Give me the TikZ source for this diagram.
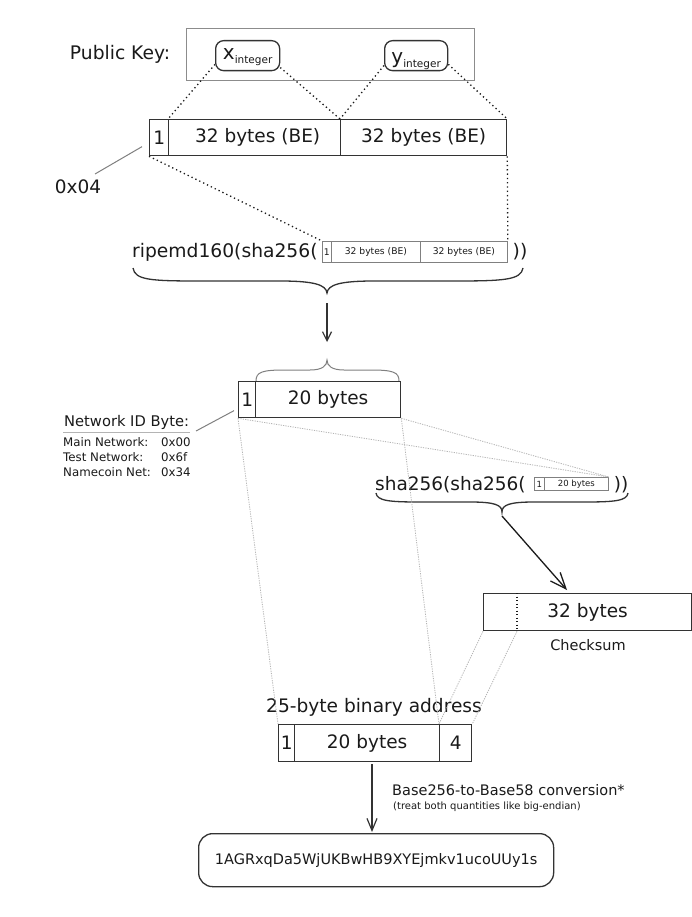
\documentclass[tikz,border=0pt]{standalone}
\usepackage{fontspec}
\setmainfont{DejaVu Sans}
\usetikzlibrary{arrows.meta,calc}
\definecolor{boxc}{HTML}{333333}
\definecolor{txt}{HTML}{1A1A1A}
\definecolor{sgray}{HTML}{808080}
\definecolor{pkgray}{HTML}{8C8C8C}
\definecolor{lgray}{HTML}{B4B4B4}
\begin{document}
\begin{tikzpicture}[x=1pt,y=-1pt,
  fs/.style={font=\fontsize{#1}{#1}\selectfont, text=txt, inner sep=0pt},
  cell/.style={draw=boxc, line width=1.3pt, inner sep=0pt, text=txt,
    font=\fontsize{18.5}{18.5}\selectfont, minimum height=36pt, anchor=north west},
  scell/.style={draw=sgray, line width=0.8pt, inner sep=0pt, text=txt,
    font=\fontsize{9.2}{9.2}\selectfont, minimum height=21pt, anchor=north west},
  tcell/.style={draw=sgray, line width=0.8pt, inner sep=0pt, text=txt,
    font=\fontsize{8.5}{8.5}\selectfont, minimum height=13pt, anchor=north west},
  rbox/.style={draw=boxc, line width=1.3pt, rounded corners=8pt, inner sep=0pt,
    text=txt, anchor=north west, minimum width=64pt, minimum height=30pt},
  dotline/.style={draw=txt, line width=1.3pt, dash pattern=on 1.3pt off 3pt},
  ldot/.style={draw=lgray, line width=0.8pt, dash pattern=on 1.2pt off 1.2pt},
  brc/.style={draw=boxc, line width=1.3pt},
  arr/.style={draw=boxc, line width=1.2pt, -{Straight Barb[length=9pt,width=9pt]}},
  arrbig/.style={draw=txt, line width=1.3pt, -{Straight Barb[length=16pt,width=13pt]}},
  thinline/.style={draw=sgray, line width=1pt}
]
\fill[white] (0,0) rectangle (692,917);
\useasboundingbox (0,0) rectangle (692,917);

% Public key
\node[draw=pkgray, line width=0.8pt, minimum width=288pt, minimum height=52pt,
  anchor=north west, inner sep=0pt] (pk) at (186,28) {};
\node[fs=18.7] (pkl) at (120,54) {Public Key:};
\node[rbox, text height=12pt, text depth=4pt] (xb) at (215,40)
  {{\fontsize{20}{20}\selectfont x}{\fontsize{10.5}{10.5}\selectfont\raisebox{-4pt}{integer}}};
\node[rbox, minimum width=63pt, text height=16pt, text depth=0pt] (yb) at (384,40)
  {{\fontsize{20}{20}\selectfont y}{\fontsize{10.5}{10.5}\selectfont\raisebox{-4pt}{integer}}};

% main bar
\node[cell, minimum width=19pt] (k1) at (149,119) {1};
\node[cell, minimum width=172pt] (k2) at (168,119) {\hspace{6pt}32 bytes (BE)};
\node[cell, minimum width=166pt] (k3) at (340,119) {32 bytes (BE)};

\draw[dotline] (xb.195) -- (k2.north west);
\draw[dotline] (xb.-20) -- (k3.north west);
\draw[dotline] (yb.197) -- (k3.north west);
\draw[dotline] (yb.-15) -- (k3.north east);

% 0x04
\node[fs=18.5] (ox) at (78,187) {0x04};
\coordinate (oxs) at (95,174);
\draw[thinline] (oxs) -- ($(k1.west)+(-7,9)$);

% ripemd line
\node[fs=18.7, anchor=west] (rip) at (132,252) {ripemd160(sha256(};
\node[scell, minimum width=9pt] (s1) at (322,241) {1};
\node[scell, minimum width=89pt] (s2) at (331,241) {32 bytes (BE)};
\node[scell, minimum width=87pt] (s3) at (420,241) {32 bytes (BE)};
\node[fs=18.7] (rp) at (520,252) {))};

\draw[dotline] (k1.south west) -- (s1.north west);
\draw[dotline] (k3.south east) -- (s3.north east);

% big brace
\draw[brc] (133,268) .. controls (135,280) and (150,281) .. (200,281) -- (280,281)
  .. controls (315,281) and (326,285) .. (327,293)
  .. controls (328,285) and (339,281) .. (374,281) -- (454,281)
  .. controls (504,281) and (521,280) .. (523,268);

\coordinate (a1s) at (327,303);
\coordinate (a1e) at (327,342);
\draw[arr] (a1s) -- (a1e);

% small upper brace
\draw[draw=sgray, line width=1pt] (256,381) .. controls (256,372) and (262,370) .. (285,370) -- (310,370)
  .. controls (322,370) and (327,366) .. (327,360)
  .. controls (327,366) and (332,370) .. (344,370) -- (370,370)
  .. controls (393,370) and (399,372) .. (399,381);

% 20 bytes box
\node[cell, minimum width=17pt] (n1) at (238,381) {1};
\node[cell, minimum width=145pt] (n2) at (255,381) {20 bytes};

% network id
\node[fs=14.7, anchor=west] (nid) at (64,422) {Network ID Byte:};
\draw[draw=lgray, line width=1pt] (nid.south west) ++(-1,3) coordinate (ul1) -- ($(nid.south east)+(1,3)$) coordinate (ul2);
\coordinate (nls) at (196,431);
\draw[thinline] (nls) -- ($(n1.west)+(-4,11)$);
\node[fs=11.8, anchor=west] (mn) at (63,442) {Main Network:};
\node[fs=11.8, anchor=west] (mnv) at (161,442) {0x00};
\node[fs=11.8, anchor=west] (tn) at (63,457) {Test Network:};
\node[fs=11.8, anchor=west] (tnv) at (161,457) {0x6f};
\node[fs=11.8, anchor=west] (nn) at (63,472) {Namecoin Net:};
\node[fs=11.8, anchor=west] (nnv) at (161,472) {0x34};

% sha256 line
\node[fs=18.5, anchor=west] (sha) at (375,485) {sha256(sha256(};
\node[tcell, minimum width=10pt] (sb1) at (534,477) {1};
\node[tcell, minimum width=64pt] (sb2) at (544,477) {20 bytes};
\node[fs=18.5] (sp) at (621,485) {))};

\draw[ldot] (n1.south west) -- (sb2.north east);
\draw[ldot] (n2.south east) -- (sb2.north east);

% brace 3
\draw[brc] (376,493) .. controls (377,501) and (390,502) .. (420,502) -- (470,502)
  .. controls (495,502) and (502,505) .. (502,512)
  .. controls (502,505) and (509,502) .. (534,502) -- (584,502)
  .. controls (614,502) and (627,501) .. (628,493);

\coordinate (a2s) at (502,516);
\coordinate (a2e) at (567,590);
\draw[arrbig] (a2s) -- (a2e);

% checksum box
\node[cell, minimum width=208pt, minimum height=37pt] (cb) at (483,593) {32 bytes};
\draw[dotline, line width=1.3pt, dash pattern=on 1.3pt off 2.2pt]
  ($(cb.north west)+(34,0)$) coordinate (cdt) -- ($(cb.south west)+(34,0)$) coordinate (cdb);
\node[fs=14.5] (chk) at (588,645) {Checksum};

% binary address
\node[fs=18.6] (ba) at (374,707) {25-byte binary address};
\node[cell, minimum width=16pt, minimum height=37pt] (f1) at (278,724) {1};
\node[cell, minimum width=145pt, minimum height=37pt] (f2) at (294,724) {20 bytes};
\node[cell, minimum width=32pt, minimum height=37pt] (f3) at (439,724) {4};

\draw[ldot] (n1.south west) -- (f1.north west);
\draw[ldot] (n2.south east) -- (f3.north west);
\draw[ldot] (cb.south west) -- (f3.north west);
\draw[ldot] (cdb) -- (f3.north east);

% conversion
\coordinate (a3s) at (372,764);
\coordinate (a3e) at (372,832);
\draw[arr, -{Straight Barb[length=12pt,width=10pt]}] (a3s) -- (a3e);
\node[fs=14.5, anchor=west] (conv) at (392,790) {Base256-to-Base58 conversion*};
\node[fs=10, anchor=west] (conv2) at (393,807) {(treat both quantities like big-endian)};

\node[draw=boxc, line width=1.3pt, rounded corners=14pt, anchor=north west,
  minimum width=355pt, minimum height=53pt, inner sep=0pt, text=txt,
  font=\fontsize{14.5}{14.5}\selectfont] (addr) at (198,833) {1AGRxqDa5WjUKBwHB9XYEjmkv1ucoUUy1s};
\end{tikzpicture}
\end{document}
